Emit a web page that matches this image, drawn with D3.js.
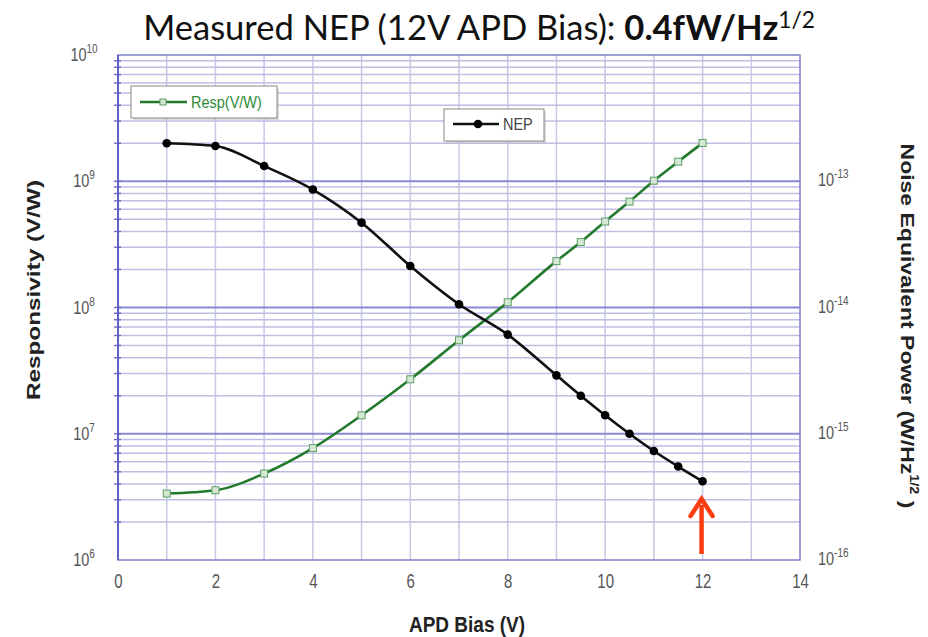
<!DOCTYPE html>
<html>
<head>
<meta charset="utf-8">
<script src="https://cdn.jsdelivr.net/npm/d3@7"></script>
<style>
  html, body { margin: 0; padding: 0; background: #fff; }
  svg { display: block; }
</style>
</head>
<body>
<svg id="chart" width="928" height="637"></svg>
<script>
// ---- Data ----
const bias = [1, 2, 3, 4, 5, 6, 7, 8, 9, 9.5, 10, 10.5, 11, 11.5, 12];
const respValues = [3.36e6, 3.57e6, 4.84e6, 7.7e6, 1.40e7, 2.7e7, 5.5e7, 1.10e8, 2.33e8, 3.3e8, 4.8e8, 6.9e8, 1.01e9, 1.43e9, 2.01e9];
const nepValues = [2.0e-13, 1.9e-13, 1.32e-13, 8.6e-14, 4.7e-14, 2.13e-14, 1.06e-14, 6.1e-15, 2.9e-15, 2.0e-15, 1.40e-15, 1.0e-15, 7.3e-16, 5.5e-16, 4.2e-16];
const xTicks = [0, 2, 4, 6, 8, 10, 12, 14];
const leftExps = [6, 7, 8, 9, 10];
const rightExps = [-16, -15, -14, -13];
const arrowBias = 12;

// ---- Layout ----
const svg = d3.select("#chart");
const L = 118, R = 800, T = 55, B = 560;
const x = d3.scaleLinear().domain([0, 14]).range([L, R]);
const yL = d3.scaleLog().domain([1e6, 1e10]).range([B, T]);
const yR = d3.scaleLog().domain([1e-16, 1e-12]).range([B, T]);
const VS = 1.3; // vertical stretch of text seen in the reference

svg.append("rect").attr("width", 928).attr("height", 637).attr("fill", "#fff");

// ---- Grid ----
const grid = svg.append("g");
d3.range(1, 14).forEach(v => {
  grid.append("line").attr("x1", x(v)).attr("x2", x(v)).attr("y1", T).attr("y2", B)
    .attr("stroke", "#c8c8e8").attr("stroke-width", 1.5);
});
const allTicks = yL.ticks(40).filter(v => v > 1e6 && v < 1e10);
allTicks.forEach(v => {
  const major = Math.abs(Math.log10(v) - Math.round(Math.log10(v))) < 1e-9;
  grid.append("line").attr("x1", L).attr("x2", R).attr("y1", yL(v)).attr("y2", yL(v))
    .attr("stroke", major ? "#8a8ad2" : "#bebee4").attr("stroke-width", major ? 2.2 : 1.4);
  grid.append("line").attr("x1", L - 4).attr("x2", L + 3).attr("y1", yL(v)).attr("y2", yL(v))
    .attr("stroke", "#6a6ac8").attr("stroke-width", 1.4);
});

// frame
svg.append("rect").attr("x", L).attr("y", T).attr("width", R - L).attr("height", B - T)
  .attr("fill", "none").attr("stroke", "#8080cc").attr("stroke-width", 1.5);
svg.append("line").attr("x1", L).attr("x2", L).attr("y1", T).attr("y2", B)
  .attr("stroke", "#5a5ac4").attr("stroke-width", 1.8);

// ---- Axes labels ----
const tickFont = "'Liberation Sans', Arial, sans-serif";
const xAxis = svg.append("g").attr("transform", `translate(0,${B})`)
  .call(d3.axisBottom(x).tickValues(xTicks).tickSize(0).tickPadding(0).tickFormat(d3.format("d")));
xAxis.select(".domain").remove();
xAxis.selectAll(".tick text")
  .attr("y", 0).attr("dy", 0)
  .attr("transform", `translate(0,28) scale(1,${VS})`)
  .attr("font-family", tickFont).attr("font-size", 15).attr("fill", "#555");

function powLabel(g, xPos, yPos, exp, anchor) {
  const t = g.append("text").attr("transform", `translate(${xPos},${yPos}) scale(1,${VS})`)
    .attr("text-anchor", anchor)
    .attr("font-family", tickFont).attr("font-size", 14.5).attr("fill", "#555");
  t.append("tspan").text("10");
  t.append("tspan").attr("dy", -6).attr("font-size", 10).text(exp);
  return t;
}
const lab = svg.append("g");
leftExps.forEach(e => powLabel(lab, 84, yL(Math.pow(10, e)) + 6, String(e), "middle"));
rightExps.forEach(e => powLabel(lab, 818, yR(Math.pow(10, e)) + 5, String(e), "start"));

// axis titles
const boldFont = "'Liberation Sans', Arial, sans-serif";
svg.append("text").attr("transform", `translate(467,632) scale(1,1.15)`).attr("text-anchor", "middle")
  .attr("font-family", boldFont).attr("font-weight", "bold").attr("font-size", 19).attr("fill", "#222")
  .text("APD Bias (V)");
svg.append("text").attr("transform", `translate(40,290) rotate(-90) scale(1.28,1)`).attr("text-anchor", "middle")
  .attr("font-family", boldFont).attr("font-weight", "bold").attr("font-size", 19).attr("fill", "#222")
  .text("Responsivity (V/W)");
const rt = svg.append("text").attr("transform", `translate(901,326) rotate(90) scale(1.21,1)`).attr("text-anchor", "middle")
  .attr("font-family", boldFont).attr("font-weight", "bold").attr("font-size", 19).attr("fill", "#222");
rt.append("tspan").text("Noise Equivalent Power (W/Hz");
rt.append("tspan").attr("dy", -9).attr("font-size", 12).text("1/2");
rt.append("tspan").attr("dy", 9).text(" )");

// ---- Series ----
const line = d3.line().curve(d3.curveMonotoneX);
svg.append("path")
  .attr("d", line(bias.map((b, i) => [x(b), yL(respValues[i])])))
  .attr("fill", "none").attr("stroke", "#237a2c").attr("stroke-width", 2.6);
svg.append("g").selectAll("rect").data(bias).join("rect")
  .attr("x", (d) => x(d) - 3.5).attr("y", (d, i) => yL(respValues[i]) - 3.5)
  .attr("width", 7).attr("height", 7)
  .attr("fill", "#d4e8d4").attr("stroke", "#5e9e66").attr("stroke-width", 1);

svg.append("path")
  .attr("d", line(bias.map((b, i) => [x(b), yR(nepValues[i])])))
  .attr("fill", "none").attr("stroke", "#111").attr("stroke-width", 2.6);
svg.append("g").selectAll("circle").data(bias).join("circle")
  .attr("cx", d => x(d)).attr("cy", (d, i) => yR(nepValues[i])).attr("r", 4.3).attr("fill", "#000");

// ---- Legends ----
const lg1 = svg.append("g");
lg1.append("rect").attr("x", 133).attr("y", 88).attr("width", 146).attr("height", 32).attr("fill", "#bbb").attr("opacity", 0.5);
lg1.append("rect").attr("x", 131).attr("y", 86).attr("width", 146).attr("height", 32).attr("fill", "#fff").attr("stroke", "#888").attr("stroke-width", 1);
lg1.append("line").attr("x1", 140).attr("x2", 187).attr("y1", 102).attr("y2", 102).attr("stroke", "#237a2c").attr("stroke-width", 2.6);
lg1.append("rect").attr("x", 160).attr("y", 99).attr("width", 6).attr("height", 6).attr("fill", "#d4e8d4").attr("stroke", "#5e9e66");
lg1.append("text").attr("transform", `translate(191,108) scale(1,1.2)`).attr("font-family", tickFont).attr("font-size", 14.5).attr("fill", "#2f8a3a").text("Resp(V/W)");

const lg2 = svg.append("g");
lg2.append("rect").attr("x", 446).attr("y", 111).attr("width", 100).attr("height", 32).attr("fill", "#bbb").attr("opacity", 0.5);
lg2.append("rect").attr("x", 444).attr("y", 109).attr("width", 100).attr("height", 32).attr("fill", "#fff").attr("stroke", "#888").attr("stroke-width", 1);
lg2.append("line").attr("x1", 453).attr("x2", 499).attr("y1", 124).attr("y2", 124).attr("stroke", "#111").attr("stroke-width", 2.6);
lg2.append("circle").attr("cx", 478).attr("cy", 124).attr("r", 4.3).attr("fill", "#000");
lg2.append("text").attr("transform", `translate(503,130) scale(1,1.2)`).attr("font-family", tickFont).attr("font-size", 14.5).attr("fill", "#444").text("NEP");

// ---- Red arrow ----
const ax = x(arrowBias) - 1;
const arr = svg.append("g");
arr.append("line").attr("x1", ax).attr("x2", ax).attr("y1", 505).attr("y2", 554)
  .attr("stroke", "#ff3d12").attr("stroke-width", 4.5);
arr.append("path").attr("d", `M${ax - 11},516 L${ax},499 L${ax + 11},516`)
  .attr("fill", "none").attr("stroke", "#ff3d12").attr("stroke-width", 4.5)
  .attr("stroke-linejoin", "miter").attr("stroke-linecap", "round");

// ---- Title ----
const title = svg.append("text").attr("x", 479).attr("y", 40).attr("text-anchor", "middle")
  .attr("font-family", "Lato, 'Open Sans', sans-serif").attr("font-size", 32).attr("fill", "#111");
title.append("tspan").text("Measured NEP (12V APD Bias): ");
title.append("tspan").attr("font-weight", "bold").text("0.4fW/Hz");
title.append("tspan").attr("dy", -12).attr("font-size", 21).text("1/2");
const w = title.node().getBBox().width;
title.attr("font-size", 32 * 672 / w);
title.selectAll("tspan").filter((d, i) => i === 2).attr("font-size", 21 * 672 / w);
</script>
</body>
</html>
